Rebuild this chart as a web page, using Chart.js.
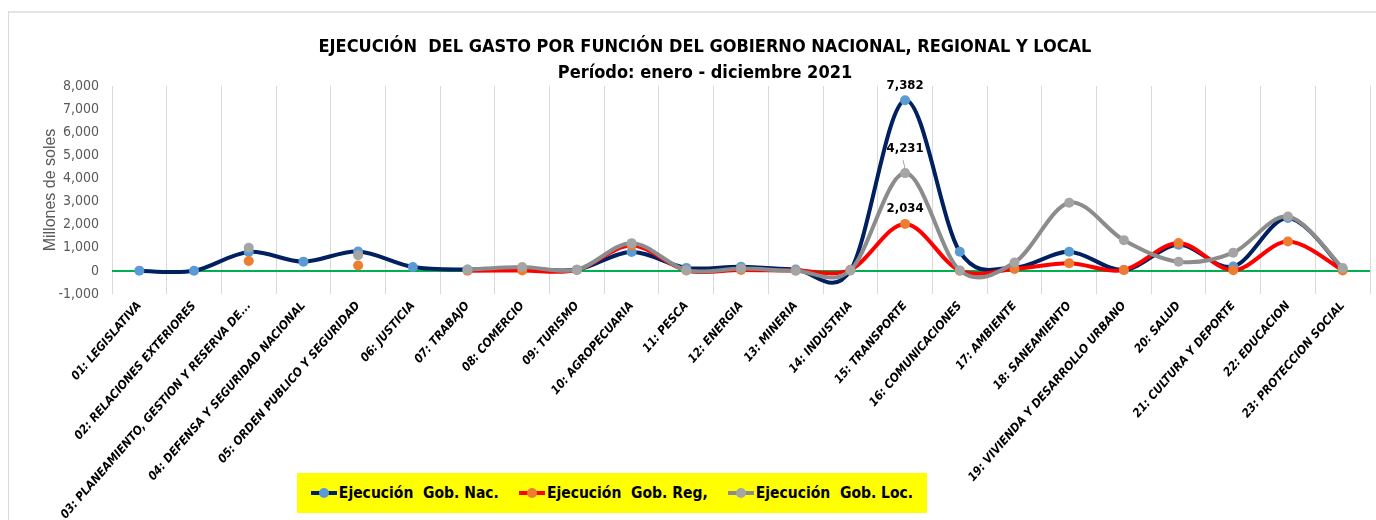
<!DOCTYPE html>
<html>
<head>
<meta charset="utf-8">
<script src="https://cdn.jsdelivr.net/npm/chart.js@4.4.1/dist/chart.umd.min.js"></script>
<style>
  body { margin: 0; background: #fff; }
  #caja { position: relative; width: 1376px; height: 520px; overflow: hidden; background: #fff; }
  #marco { position: absolute; left: 8px; top: 11px; right: -5px; bottom: -5px; border-left: 1px solid #d9d9d9; border-top: 2px solid #e3e3e3; }
  #titulo { position: absolute; left: 0; top: 33px; width: 1410px; text-align: center;
            font: bold 18px "Liberation Sans Narrow", "DejaVu Sans Condensed", sans-serif; line-height: 26px; color: #000; }
  #grafica { position: absolute; left: 0; top: 0; }
  #leyenda { position: absolute; left: 297px; top: 473px; width: 630px; height: 40px; background: #ffff00;
             display: flex; align-items: center; justify-content: center; gap: 20px;
             font: bold 15.5px "Liberation Sans Narrow", "DejaVu Sans Condensed", sans-serif; color: #000; }
  .item { display: flex; align-items: center; white-space: pre; }
  .muestra { position: relative; width: 26px; height: 10px; margin-right: 2px; }
  .muestra .linea { position: absolute; left: 0; right: 0; top: 3px; height: 4px; }
  .muestra .punto { position: absolute; left: 8px; top: 0; width: 10px; height: 10px; border-radius: 50%; }
</style>
</head>
<body>
<div id="caja">
  <div id="marco"></div>
  <canvas id="grafica" width="1376" height="520"></canvas>
  <div id="titulo">EJECUCIÓN&nbsp; DEL GASTO POR FUNCIÓN DEL GOBIERNO NACIONAL, REGIONAL Y LOCAL<br>Período: enero - diciembre 2021</div>
  <div id="leyenda"></div>
</div>
<script>
let funciones = [
    "01: LEGISLATIVA", "02: RELACIONES EXTERIORES", "03: PLANEAMIENTO, GESTION Y RESERVA DE...",
    "04: DEFENSA Y SEGURIDAD NACIONAL", "05: ORDEN PUBLICO Y SEGURIDAD", "06: JUSTICIA",
    "07: TRABAJO", "08: COMERCIO", "09: TURISMO", "10: AGROPECUARIA", "11: PESCA",
    "12: ENERGIA", "13: MINERIA", "14: INDUSTRIA", "15: TRANSPORTE", "16: COMUNICACIONES",
    "17: AMBIENTE", "18: SANEAMIENTO", "19: VIVIENDA Y DESARROLLO URBANO", "20: SALUD",
    "21: CULTURA Y DEPORTE", "22: EDUCACION", "23: PROTECCION SOCIAL"
];

// millones de soles
let gobNac = [10, 5, 820, 400, 840, 170, 60, 110, 50, 820, 130, 180, 60, 20, 7382, 830, 150, 830, 40, 1130, 190, 2290, 80];
let gobReg = [null, null, 430, null, 230, null, 10, 20, 40, 1100, 20, 40, 20, 50, 2034, 10, 80, 330, 40, 1210, 30, 1270, 20];
let gobLoc = [null, null, 1000, null, 680, null, 50, 170, 50, 1200, 30, 100, 10, 30, 4231, 20, 360, 2950, 1330, 400, 790, 2350, 120];

let series = [
    { label: "Ejecución  Gob. Nac.", data: gobNac, linea: "#002060", punto: "#5b9bd5", orden: 3, desfase: 15 },
    { label: "Ejecución  Gob. Reg,", data: gobReg, linea: "#ff0000", punto: "#ed7d31", orden: 2, desfase: 15 },
    { label: "Ejecución  Gob. Loc.", data: gobLoc, linea: "#8c8c8c", punto: "#a5a5a5", orden: 1, desfase: 24 }
];

let fuente = "'Liberation Sans Narrow', 'DejaVu Sans Condensed', sans-serif";

// curva suavizada al estilo Excel: tangente = (siguiente - anterior) / 6
let suavizadoExcel = {
    id: "suavizadoExcel",
    beforeDatasetsDraw(chart) {
        chart.data.datasets.forEach((ds, i) => {
            let meta = chart.getDatasetMeta(i);
            let pts = meta.data;
            let n = pts.length;
            for (let k = 0; k < n; k++) {
                if (pts[k].skip) continue;
                let a = (k > 0 && !pts[k - 1].skip) ? pts[k - 1] : pts[k];
                let b = (k < n - 1 && !pts[k + 1].skip) ? pts[k + 1] : pts[k];
                let dx = (b.x - a.x) / 6, dy = (b.y - a.y) / 6;
                pts[k].cp1x = pts[k].x - dx; pts[k].cp1y = pts[k].y - dy;
                pts[k].cp2x = pts[k].x + dx; pts[k].cp2y = pts[k].y + dy;
            }
            meta.dataset._pointsUpdated = true;
        });
    }
};

// etiqueta del valor maximo de cada serie
let etiquetasMax = {
    id: "etiquetasMax",
    afterDatasetsDraw(chart) {
        let ctx = chart.ctx;
        ctx.save();
        ctx.font = "bold 13px " + fuente;
        ctx.fillStyle = "#000";
        ctx.textAlign = "center";
        ctx.textBaseline = "middle";
        chart.data.datasets.forEach((ds, i) => {
            let vals = ds.data.map(v => v == null ? -Infinity : v);
            let k = vals.indexOf(Math.max(...vals));
            let p = chart.getDatasetMeta(i).data[k];
            ctx.fillText(ds.data[k].toLocaleString("en-US"), p.x, p.y - ds.desfase);
            if (ds.desfase > 20) {
                ctx.strokeStyle = "#a6a6a6";
                ctx.lineWidth = 1;
                ctx.beginPath();
                ctx.moveTo(p.x - 2, p.y - 13);
                ctx.lineTo(p.x, p.y - 4);
                ctx.stroke();
            }
        });
        ctx.restore();
    }
};

let grafica = new Chart(document.getElementById("grafica").getContext("2d"), {
    type: "line",
    data: {
        labels: funciones,
        datasets: series.map(s => ({
            label: s.label,
            data: s.data,
            borderColor: s.linea,
            backgroundColor: s.punto,
            pointBackgroundColor: s.punto,
            pointBorderWidth: 0,
            pointRadius: 5,
            borderWidth: 4,
            tension: 0.4,
            spanGaps: false,
            order: s.orden,
            desfase: s.desfase
        }))
    },
    options: {
        responsive: false,
        animation: false,
        layout: { padding: { top: 86, right: 6, left: 0, bottom: 0 } },
        plugins: {
            legend: { display: false },
            tooltip: { enabled: false }
        },
        scales: {
            x: {
                offset: true,
                grid: { color: "#d9d9d9", drawTicks: false, offset: true },
                border: { display: false },
                ticks: {
                    autoSkip: false,
                    maxRotation: 49,
                    minRotation: 49,
                    padding: 5,
                    color: "#000",
                    font: { family: fuente, size: 12, weight: "bold", style: "italic" }
                },
                afterFit(s) { s.height = 226; }
            },
            y: {
                min: -1000,
                max: 8000,
                ticks: {
                    stepSize: 1000,
                    padding: 13,
                    color: "#595959",
                    font: { family: fuente, size: 14 },
                    callback: v => v.toLocaleString("en-US")
                },
                grid: {
                    drawTicks: false,
                    lineWidth: 2,
                    color: c => c.tick && c.tick.value === 0 ? "#00b050" : "rgba(0,0,0,0)"
                },
                border: { display: false },
                title: {
                    display: true,
                    text: "Millones de soles",
                    color: "#595959",
                    font: { family: "'Liberation Sans', sans-serif", size: 16 },
                    padding: { top: 41, bottom: 0 }
                },
                afterFit(s) { s.width = 112; }
            }
        }
    },
    plugins: [suavizadoExcel, etiquetasMax]
});

let leyenda = document.getElementById("leyenda");
series.forEach(s => {
    let item = document.createElement("div");
    item.className = "item";
    item.innerHTML = '<span class="muestra"><span class="linea" style="background:' + s.linea +
        '"></span><span class="punto" style="background:' + s.punto + '"></span></span>' + s.label;
    leyenda.appendChild(item);
});
</script>
</body>
</html>
